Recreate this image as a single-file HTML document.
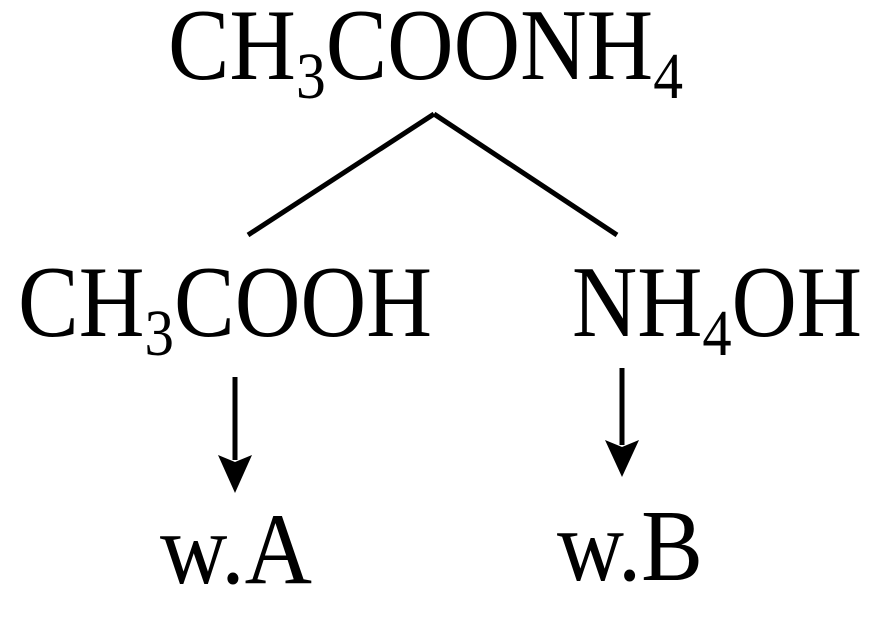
<!DOCTYPE html>
<html><head><style>html,body{margin:0;padding:0;background:#fff;}svg{display:block}text{font-family:"Liberation Serif","Times New Roman",serif;}</style></head>
<body>
<svg width="885" height="622" xmlns="http://www.w3.org/2000/svg" fill="#000">
<text x="168" y="79" font-size="102" textLength="515" lengthAdjust="spacingAndGlyphs">CH<tspan font-size="66" dy="19">3</tspan><tspan dy="-19">COONH</tspan><tspan font-size="66" dy="19">4</tspan></text>
<line x1="434" y1="114" x2="248" y2="235" stroke="#000" stroke-width="5"/>
<line x1="434" y1="114" x2="617" y2="235" stroke="#000" stroke-width="5"/>
<text x="18" y="336" font-size="102" textLength="414" lengthAdjust="spacingAndGlyphs">CH<tspan font-size="66" dy="19">3</tspan><tspan dy="-19">COOH</tspan></text>
<text x="572" y="336" font-size="102" textLength="290" lengthAdjust="spacingAndGlyphs">NH<tspan font-size="66" dy="19">4</tspan><tspan dy="-19">OH</tspan></text>
<line x1="235" y1="377" x2="235" y2="460" stroke="#000" stroke-width="5"/>
<polygon points="218,455 235,462 252,455 235,493" />
<line x1="622" y1="368" x2="622" y2="445" stroke="#000" stroke-width="5"/>
<polygon points="605,440 622,447 639,440 622,477" />
<text x="160" y="583" font-size="102" textLength="152" lengthAdjust="spacingAndGlyphs">w.A</text>
<text x="557" y="580" font-size="102" textLength="146" lengthAdjust="spacingAndGlyphs">w.B</text>
</svg>
</body></html>
